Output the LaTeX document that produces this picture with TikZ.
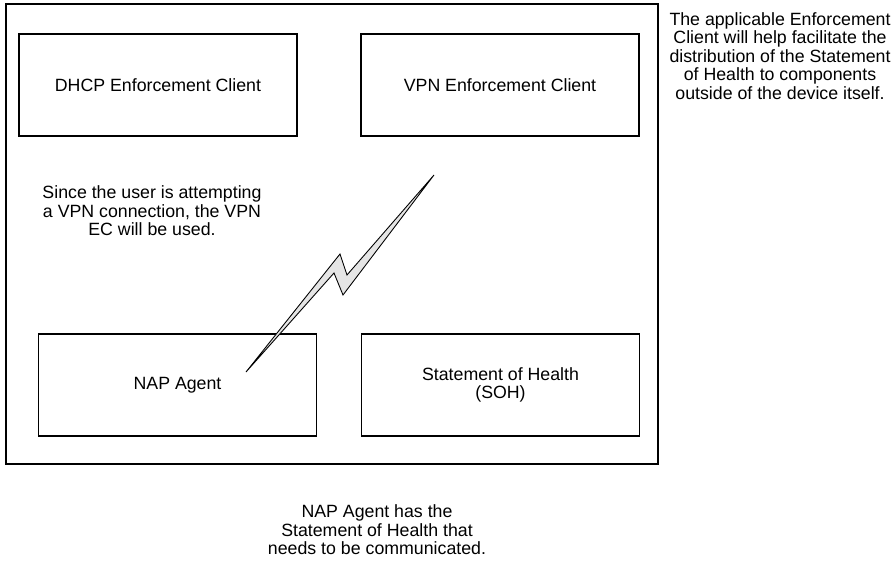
\documentclass[tikz,border=0pt]{standalone}
\usepackage{fontspec}
\setmainfont{Liberation Sans}
\begin{document}
\begin{tikzpicture}[
  font=\fontsize{10.1}{10.5}\selectfont,
  device/.style={draw,line width=0.7pt,minimum width=13.04cm,minimum height=9.2cm},
  comp/.style={draw,line width=0.7pt,align=center,minimum width=5.56cm,minimum height=2.04cm},
  note/.style={align=center},
  bolt/.style={draw,line width=0.5pt,fill=black!10,line join=miter}
]
\useasboundingbox (0,0) rectangle (17.92,-11.44);
\node[device] (dev) at (6.64,-4.68) {};
\node[comp] (dhcp) at (3.16,-1.70) {DHCP Enforcement Client};
\node[comp] (vpn) at (10.0,-1.70) {VPN Enforcement Client};
\node[comp] (nap) at (3.55,-7.70) {NAP Agent};
\node[comp] (soh) at (10.01,-7.70) {Statement of Health\\(SOH)};
\node[note] (usenote) at (3.04,-4.22) {Since the user is attempting\\
  a VPN connection, the VPN\\EC will be used.};
\node[note] (ecnote) at (15.6,-1.12) {The applicable Enforcement\\
  Client will help facilitate the\\distribution of the Statement\\
  of Health to components\\outside of the device itself.};
\node[note] (napnote) at (7.54,-10.6) {NAP Agent has the\\
  Statement of Health that\\needs to be communicated.};
% lightning bolt
\draw[bolt] (8.68,-3.50) -- (6.94,-5.50) -- (6.80,-5.08) -- (4.92,-7.44)
  -- (6.68,-5.46) -- (6.86,-5.90) -- cycle;
\end{tikzpicture}
\end{document}
